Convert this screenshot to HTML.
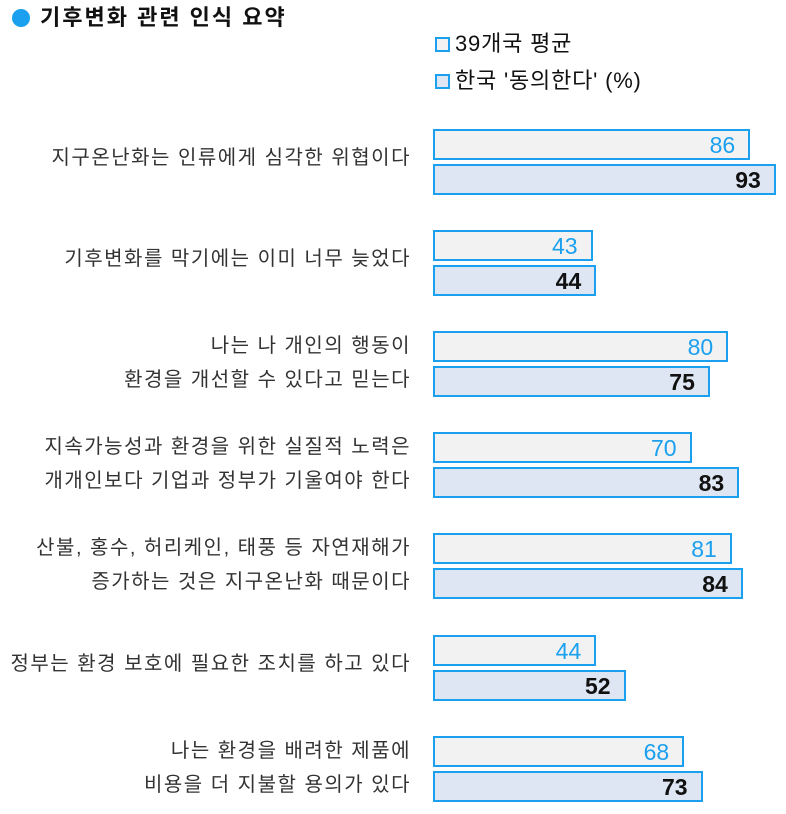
<!DOCTYPE html>
<html><head><meta charset="utf-8"><style>
body{margin:0;width:786px;height:814px;background:#fff;font-family:"Liberation Sans","Noto Sans CJK KR",sans-serif;position:relative;overflow:hidden}
.abs{position:absolute}
.title{left:40px;top:4px;font-size:22px;font-weight:bold;color:#111;line-height:28px;letter-spacing:2px}
.dot{left:12px;top:9px;width:18px;height:18px;border-radius:50%;background:#1aa0ef}
.lg{font-size:22px;color:#111;line-height:28px;letter-spacing:0.8px}
.sw{width:11px;height:11px;border:2px solid #1aa0ef}
.lab{right:375px;text-align:right;font-size:20px;letter-spacing:1.5px;color:#333;line-height:34px;white-space:nowrap}
.bar{box-sizing:border-box;border:2px solid #1aa0ef;height:31px}
.val{position:absolute;right:13px;top:0;line-height:28px;font-size:23px}
</style></head><body>
<div class="abs dot"></div>
<div class="abs title">기후변화 관련 인식 요약</div>
<div class="abs sw" style="left:435px;top:37px;background:#f2f2f2"></div>
<div class="abs lg" style="left:455px;top:30px">39개국 평균</div>
<div class="abs sw" style="left:435px;top:74px;background:#dde6f2"></div>
<div class="abs lg" style="left:455px;top:67px">한국 '동의한다' (%)</div>
<div id="chart"></div>
<script>
const categories=[["지구온난화는 인류에게 심각한 위협이다"],["기후변화를 막기에는 이미 너무 늦었다"],["나는 나 개인의 행동이","환경을 개선할 수 있다고 믿는다"],["지속가능성과 환경을 위한 실질적 노력은","개개인보다 기업과 정부가 기울여야 한다"],["산불, 홍수, 허리케인, 태풍 등 자연재해가","증가하는 것은 지구온난화 때문이다"],["정부는 환경 보호에 필요한 조치를 하고 있다"],["나는 환경을 배려한 제품에","비용을 더 지불할 용의가 있다"]];
const avgValues=[86,43,80,70,81,44,68];
const koreaValues=[93,44,75,83,84,52,73];
const x0=433, scale=3.665, y0=129, step=101.1;
const xw=v=>v*scale+2;
const root=document.getElementById('chart');
categories.forEach((lines,i)=>{
  const top=y0+i*step;
  const lab=document.createElement('div');
  lab.className='abs lab';
  
  
  lab.innerHTML=lines.join('<br>');
  lab.style.top=(lines.length===1? top+12 : top-2)+'px';
  root.appendChild(lab);
  [[avgValues[i],'#f2f2f2','#1aa0ef','normal',0,'bar-avg'],[koreaValues[i],'#dde6f2','#111','bold',35,'bar-korea']].forEach(([v,bg,col,fw,dy,nm])=>{
    const b=document.createElement('div');
    b.className='abs bar';
    
    
    b.style.left=x0+'px';b.style.top=(top+dy)+'px';b.style.width=xw(v)+'px';b.style.background=bg;
    const t=document.createElement('span');
    t.className='val';
    
    
    t.textContent=v;t.style.color=col;t.style.fontWeight=fw;
    b.appendChild(t);root.appendChild(b);
  });
});
</script>
</body></html>
